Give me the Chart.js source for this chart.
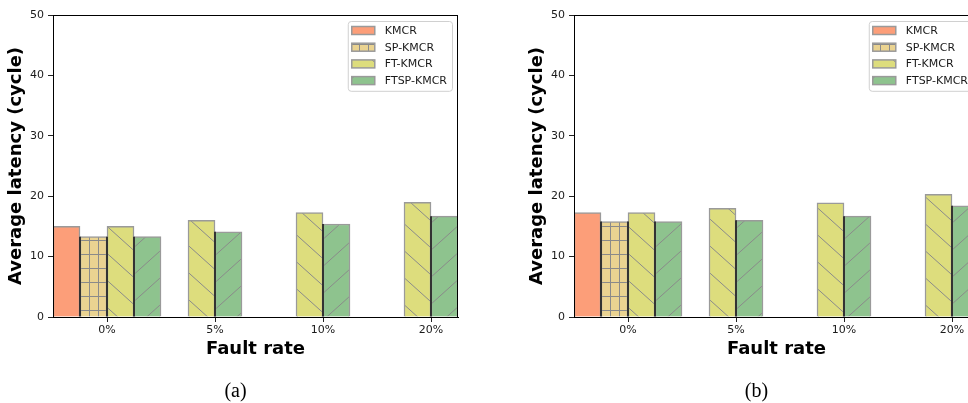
<!DOCTYPE html>
<html>
<head>
<meta charset="utf-8">
<script src="https://cdn.jsdelivr.net/npm/chart.js@4/dist/chart.umd.min.js"></script>
<style>
  html, body { margin: 0; padding: 0; background: #fff; overflow: hidden; width: 968px; height: 403px; position: relative; }
  .panel { position: absolute; top: 0; width: 471px; height: 403px; }
  #panelA { left: 0; }
  #panelB { left: 521px; }
</style>
</head>
<body>
<div class="panel" id="panelA"><canvas id="chartA" width="471" height="403"></canvas></div>
<div class="panel" id="panelB"><canvas id="chartB" width="471" height="403"></canvas></div>
<script>
// ---- data ----
const faultRates = ['0%', '5%', '10%', '20%'];
const seriesNames = ['KMCR', 'SP-KMCR', 'FT-KMCR', 'FTSP-KMCR'];
const yTicks = [0, 10, 20, 30, 40, 50];

// panel (a)
const kmcrA     = [15.0, null, null, null];
const spKmcrA   = [13.3, null, null, null];
const ftKmcrA   = [15.0, 16.0, 17.3, 19.0];
const ftspKmcrA = [13.3, 14.1, 15.4, 16.7];

// panel (b)
const kmcrB     = [17.3, null, null, null];
const spKmcrB   = [15.8, null, null, null];
const ftKmcrB   = [17.3, 18.0, 18.9, 20.3];
const ftspKmcrB = [15.8, 16.0, 16.7, 18.4];

// ---- styles ----
const FONT = "'DejaVu Sans', 'Liberation Sans', sans-serif";
const TEXT_SIZE = 11;
const EDGE = '#9a9a9a';
const HATCH = '#8a8a8a';
const fills = ['#fc9e79', '#ead391', '#dddd7d', '#8ec38e'];
const hatchKinds = ['none', 'grid', 'back', 'fwd'];
const BAR_SLOT = 0.25; // width of one bar in category units

function hatchFill(bg, kind) {
  if (kind === 'none') return bg;
  const c = document.createElement('canvas');
  const w = kind === 'grid' ? 9 : 30;
  const h = kind === 'grid' ? 14 : 27;
  c.width = w; c.height = h;
  const g = c.getContext('2d');
  g.fillStyle = bg;
  g.fillRect(0, 0, w, h);
  g.strokeStyle = HATCH;
  g.lineWidth = 1;
  g.beginPath();
  if (kind === 'grid') {
    g.moveTo(8.5, 0); g.lineTo(8.5, h);
    g.moveTo(0, 2.5); g.lineTo(w, 2.5);
  } else if (kind === 'back') {
    for (let k = -2; k <= 2; k++) { g.moveTo(0, 22 + h * k); g.lineTo(w, 22 + h + h * k); }
  } else {
    for (let k = -2; k <= 2; k++) { g.moveTo(0, 17 + h * k); g.lineTo(w, 17 - h + h * k); }
  }
  g.stroke();
  return g.createPattern(c, 'repeat');
}

// Place the bars of each fault-rate group side by side, centred on the group's tick.
function buildDatasets(seriesValues) {
  return seriesValues.map((vals, s) => {
    const points = [];
    vals.forEach((v, i) => {
      if (v === null) return;
      const present = seriesValues.map(sv => sv[i]).map((x, idx) => x === null ? -1 : idx).filter(idx => idx >= 0);
      const k = present.indexOf(s);
      const offset = (k - (present.length - 1) / 2) * BAR_SLOT;
      points.push({ x: i + offset, y: v });
    });
    return {
      label: seriesNames[s],
      data: points,
      backgroundColor: hatchFill(fills[s], hatchKinds[s]),
      borderColor: EDGE,
      borderWidth: 1.5,
      borderSkipped: 'start'
    };
  });
}

// Dark seam where two neighbouring bars touch.
const seamPlugin = {
  id: 'seams',
  afterDatasetsDraw(chart) {
    const bars = [];
    chart.data.datasets.forEach((d, i) => {
      chart.getDatasetMeta(i).data.forEach(el => {
        bars.push(el.getProps(['x', 'y', 'base', 'width'], true));
      });
    });
    const ctx = chart.ctx;
    ctx.save();
    ctx.strokeStyle = '#333';
    ctx.lineWidth = 2;
    bars.forEach(a => bars.forEach(b => {
      const ra = a.x + a.width / 2, lb = b.x - b.width / 2;
      if (a !== b && Math.abs(ra - lb) < 1) {
        const top = Math.max(a.y, b.y);
        ctx.beginPath();
        ctx.moveTo(lb, a.base);
        ctx.lineTo(lb, top);
        ctx.stroke();
      }
    }));
    ctx.restore();
  }
};

// Full box around the plotting area.
const framePlugin = {
  id: 'frame',
  afterDatasetsDraw(chart) {
    const { left, top, right, bottom } = chart.chartArea;
    const ctx = chart.ctx;
    ctx.save();
    ctx.strokeStyle = '#000';
    ctx.lineWidth = 1;
    ctx.strokeRect(Math.round(left) + 0.5, Math.round(top) + 0.5, Math.round(right - left) - 1, Math.round(bottom - top));
    ctx.restore();
  }
};

// Boxed legend in the upper-right corner of the plotting area.
const boxLegendPlugin = {
  id: 'boxLegend',
  afterDraw(chart) {
    const ctx = chart.ctx;
    const area = chart.chartArea;
    const sets = chart.data.datasets;
    ctx.save();
    ctx.font = TEXT_SIZE + 'px ' + FONT;
    const textW = Math.max(...sets.map(d => ctx.measureText(d.label).width));
    const swW = 23, swH = 8, padL = 4, gap = 10, padR = 5, rowH = 16.7;
    const w = padL + swW + gap + textW + padR;
    const h = rowH * sets.length + 3;
    const x0 = area.right - 6 - w;
    const y0 = area.top + 6;
    ctx.beginPath();
    ctx.roundRect(x0 + 0.5, y0 + 0.5, w, h, 3);
    ctx.fillStyle = 'rgba(255,255,255,0.85)';
    ctx.fill();
    ctx.strokeStyle = '#d0d0d0';
    ctx.lineWidth = 1;
    ctx.stroke();
    sets.forEach((d, i) => {
      const cy = y0 + 9.5 + i * rowH;
      ctx.fillStyle = d.backgroundColor;
      ctx.fillRect(x0 + padL, cy - swH / 2, swW, swH);
      ctx.strokeStyle = EDGE;
      ctx.lineWidth = 1.5;
      ctx.strokeRect(x0 + padL, cy - swH / 2, swW, swH);
      ctx.fillStyle = '#1a1a1a';
      ctx.textAlign = 'left';
      ctx.textBaseline = 'middle';
      ctx.fillText(d.label, x0 + padL + swW + gap, cy + 0.5);
    });
    ctx.restore();
  }
};

// Sub-figure caption under the panel.
const captionPlugin = {
  id: 'caption',
  afterDraw(chart, args, opts) {
    const ctx = chart.ctx;
    ctx.save();
    ctx.font = "20px 'Liberation Serif', 'DejaVu Serif', serif";
    ctx.fillStyle = '#000';
    ctx.textAlign = 'center';
    ctx.textBaseline = 'alphabetic';
    ctx.fillText(opts.text, chart.width / 2, 397);
    ctx.restore();
  }
};

function makeChart(canvasId, seriesValues, caption) {
  return new Chart(document.getElementById(canvasId), {
    type: 'bar',
    data: { datasets: buildDatasets(seriesValues) },
    plugins: [seamPlugin, framePlugin, boxLegendPlugin, captionPlugin],
    options: {
      responsive: false,
      animation: false,
      devicePixelRatio: 1,
      layout: { padding: { left: 0, top: 15, right: 13, bottom: 40 } },
      datasets: { bar: { grouped: false, barPercentage: 1, categoryPercentage: 1 } },
      scales: {
        x: {
          type: 'linear',
          offset: false,
          min: -2 * BAR_SLOT,
          max: faultRates.length - 1 + BAR_SLOT,
          afterBuildTicks: ax => { ax.ticks = faultRates.map((_, i) => ({ value: i })); },
          afterFit: s => { s.height = 46; },
          ticks: {
            callback: v => faultRates[v],
            font: { family: FONT, size: TEXT_SIZE },
            color: '#1a1a1a',
            padding: 2,
            maxRotation: 0,
            autoSkip: false
          },
          grid: { display: true, offset: false, drawOnChartArea: false, drawTicks: true, tickLength: 5, tickColor: '#222' },
          border: { display: true, color: '#000', width: 1 },
          title: {
            display: true,
            text: 'Fault rate',
            font: { family: FONT, size: 18, weight: 'bold' },
            color: '#000',
            padding: { top: 0, bottom: 3 }
          }
        },
        y: {
          min: yTicks[0],
          max: yTicks[yTicks.length - 1],
          afterBuildTicks: ax => { ax.ticks = yTicks.map(v => ({ value: v })); },
          afterFit: s => { s.width = 53; },
          ticks: {
            font: { family: FONT, size: TEXT_SIZE },
            color: '#1a1a1a',
            padding: 4
          },
          grid: { display: true, offset: false, drawOnChartArea: false, drawTicks: true, tickLength: 5, tickColor: '#222' },
          border: { display: true, color: '#000', width: 1 },
          title: {
            display: true,
            text: 'Average latency (cycle)',
            font: { family: FONT, size: 18, weight: 'bold' },
            color: '#000',
            padding: { top: 6, bottom: 0 }
          }
        }
      },
      plugins: {
        legend: { display: false },
        tooltip: { enabled: false },
        caption: { text: caption }
      }
    }
  });
}

makeChart('chartA', [kmcrA, spKmcrA, ftKmcrA, ftspKmcrA], '(a)');
makeChart('chartB', [kmcrB, spKmcrB, ftKmcrB, ftspKmcrB], '(b)');
</script>
</body>
</html>
